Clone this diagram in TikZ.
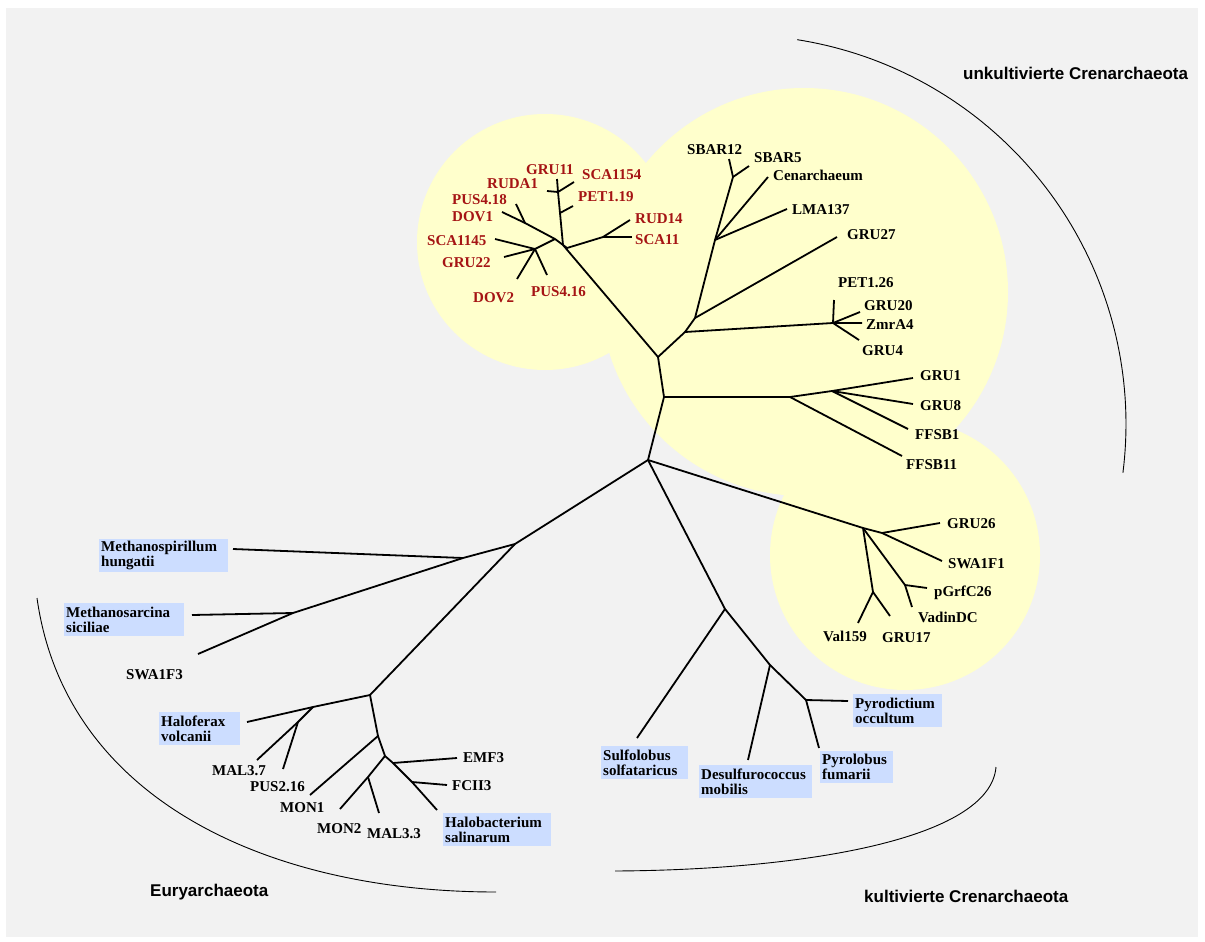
\documentclass[tikz,border=0pt]{standalone}
\usepackage{fontspec}
\setmainfont{Liberation Serif}
\newfontfamily\grpfont{Liberation Sans}
\definecolor{bggray}{RGB}{242,242,242}
\definecolor{halo}{RGB}{255,255,204}
\definecolor{boxblue}{RGB}{204,221,255}
\definecolor{treered}{RGB}{165,20,20}
\begin{document}
\begin{tikzpicture}[x=1pt,y=-1pt,
  branch/.style={line width=1.8pt,line join=round},
  arcline/.style={line width=0.9pt},
  leaf/.style={anchor=base west,inner sep=0pt,font=\bfseries\fontsize{15}{15}\selectfont},
  redleaf/.style={leaf,text=treered},
  taxbox/.style={fill=boxblue,anchor=north west,inner xsep=2pt,inner ysep=0pt,align=left,
    font=\bfseries\fontsize{15}{15}\selectfont},
  grp/.style={anchor=base west,inner sep=0pt,font=\grpfont\bfseries\fontsize{17}{17}\selectfont}]
\useasboundingbox (0,0) rectangle (1205,942);
\fill[white] (0,0) rectangle (1205,942);
\fill[bggray] (6,8) rectangle (1198,937);
% halos
\fill[halo] (545,242) circle[radius=128pt];
\fill[halo] (804,292) circle[radius=204pt];
\fill[halo] (905,555) circle[radius=135pt];

% ---------- coordinates ----------
\coordinate (A) at (648,460);
\coordinate (B) at (664,397);
\coordinate (F) at (658,357);
\coordinate (C) at (863,528);
\coordinate (D) at (515,544);
\coordinate (E) at (725,609);
% upper uncultured
\coordinate (K) at (685,332);
\coordinate (M) at (695,318);
\coordinate (N) at (715,240);
\coordinate (O) at (733,177);
\coordinate (L) at (833,323);
\coordinate (G) at (790,397);
\coordinate (H) at (832,391);
\coordinate (eSBAR12) at (729,159);
\coordinate (eSBAR5) at (749,166);
\coordinate (eCen) at (768,177);
\coordinate (eLMA137) at (787,209);
\coordinate (eGRU27) at (837,237);
\coordinate (ePET126) at (834,300);
\coordinate (eGRU20) at (860,312);
\coordinate (eZmrA4) at (862,323);
\coordinate (eGRU4) at (859,340);
\coordinate (eGRU1) at (913,378);
\coordinate (eGRU8) at (913,404);
\coordinate (eFFSB1) at (908,429);
\coordinate (eFFSB11) at (902,456);
% red cluster
\coordinate (I) at (563,245);
\coordinate (S) at (560,213);
\coordinate (R) at (558,192);
\coordinate (eGRU11) at (557,179);
\coordinate (eRUDA1) at (547,191);
\coordinate (eSCA1154) at (574,182);
\coordinate (ePET119) at (573,206);
\coordinate (Ib) at (555,239);
\coordinate (Xd) at (525,223);
\coordinate (eDOV1) at (502,212);
\coordinate (ePUS418) at (516,204);
\coordinate (T) at (535,249);
\coordinate (eSCA1145) at (495,239);
\coordinate (eGRU22) at (504,257);
\coordinate (eDOV2) at (517,279);
\coordinate (ePUS416) at (547,275);
\coordinate (Ic) at (567,248);
\coordinate (U) at (603,237);
\coordinate (eRUD14) at (630,220);
\coordinate (eSCA11) at (632,237);
% lower right cluster
\coordinate (Jc) at (882,533);
\coordinate (eSWA1F1) at (942,561);
\coordinate (eGRU26) at (940,523);
\coordinate (V) at (905,585);
\coordinate (ePGRF) at (927,588);
\coordinate (eVADIN) at (912,607);
\coordinate (W) at (873,592);
\coordinate (eVAL) at (858,623);
\coordinate (eGRU17) at (890,616);
% Euryarchaeota
\coordinate (X) at (463,558);
\coordinate (eMSPIR) at (233,549);
\coordinate (Y) at (293,613);
\coordinate (eMSARC) at (192,615);
\coordinate (eSWA1F3) at (198,654);
\coordinate (Z) at (370,695);
\coordinate (AA) at (313,707);
\coordinate (eHALOF) at (247,722);
\coordinate (AB) at (298,722);
\coordinate (eMAL37) at (257,760);
\coordinate (ePUS216) at (283,769);
\coordinate (AC) at (378,736);
\coordinate (eMON1) at (310,795);
\coordinate (AD) at (385,756);
\coordinate (P1) at (393,763);
\coordinate (P2) at (412,782);
\coordinate (eEMF3) at (457,758);
\coordinate (eFCII3) at (447,785);
\coordinate (eHALOB) at (437,810);
\coordinate (AE) at (368,777);
\coordinate (eMON2) at (340,809);
\coordinate (eMAL33) at (379,813);
% cultured Crenarchaeota
\coordinate (eSULF) at (637,738);
\coordinate (AF) at (770,665);
\coordinate (eDESULF) at (748,760);
\coordinate (AG) at (806,700);
\coordinate (ePYROD) at (848,701);
\coordinate (ePYROL) at (819,748);

% ---------- branches ----------
\draw[branch] (A) -- (B) -- (F);
\draw[branch] (A) -- (C);
\draw[branch] (A) -- (D);
\draw[branch] (A) -- (E);
% upper
\draw[branch] (F) -- (K) -- (M) -- (N) -- (O) -- (eSBAR12);
\draw[branch] (O) -- (eSBAR5);
\draw[branch] (N) -- (eCen);
\draw[branch] (N) -- (eLMA137);
\draw[branch] (M) -- (eGRU27);
\draw[branch] (K) -- (L) -- (eZmrA4);
\draw[branch] (L) -- (ePET126);
\draw[branch] (L) -- (eGRU20);
\draw[branch] (L) -- (eGRU4);
\draw[branch] (B) -- (G) -- (H) -- (eGRU1);
\draw[branch] (G) -- (eFFSB11);
\draw[branch] (H) -- (eGRU8);
\draw[branch] (H) -- (eFFSB1);
% red
\draw[branch] (F) -- (I);
\draw[branch] (I) -- (S) -- (R) -- (eGRU11);
\draw[branch] (R) -- (eRUDA1);
\draw[branch] (R) -- (eSCA1154);
\draw[branch] (S) -- (ePET119);
\draw[branch] (I) -- (Ib) -- (Xd) -- (eDOV1);
\draw[branch] (Xd) -- (ePUS418);
\draw[branch] (Ib) -- (T) -- (eSCA1145);
\draw[branch] (T) -- (eGRU22);
\draw[branch] (T) -- (eDOV2);
\draw[branch] (T) -- (ePUS416);
\draw[branch] (I) -- (Ic) -- (U) -- (eRUD14);
\draw[branch] (U) -- (eSCA11);
% lower right
\draw[branch] (C) -- (Jc) -- (eSWA1F1);
\draw[branch] (Jc) -- (eGRU26);
\draw[branch] (C) -- (V) -- (ePGRF);
\draw[branch] (V) -- (eVADIN);
\draw[branch] (C) -- (W) -- (eVAL);
\draw[branch] (W) -- (eGRU17);
% Euryarchaeota
\draw[branch] (D) -- (X) -- (Y) -- (eSWA1F3);
\draw[branch] (X) -- (eMSPIR);
\draw[branch] (Y) -- (eMSARC);
\draw[branch] (D) -- (Z);
\draw[branch] (Z) -- (AA) -- (eHALOF);
\draw[branch] (AA) -- (AB) -- (eMAL37);
\draw[branch] (AB) -- (ePUS216);
\draw[branch] (Z) -- (AC) -- (eMON1);
\draw[branch] (AC) -- (AD) -- (P1) -- (P2) -- (eHALOB);
\draw[branch] (P1) -- (eEMF3);
\draw[branch] (P2) -- (eFCII3);
\draw[branch] (AD) -- (AE) -- (eMON2);
\draw[branch] (AE) -- (eMAL33);
% cultured
\draw[branch] (E) -- (eSULF);
\draw[branch] (E) -- (AF) -- (eDESULF);
\draw[branch] (AF) -- (AG) -- (ePYROD);
\draw[branch] (AG) -- (ePYROL);

% ---------- group arcs ----------
\coordinate (arcUa) at (797,40);
\coordinate (arcUb) at (1123,473);
\draw[arcline] plot[domain=-81.1:7.2,samples=80,variable=\t] ({737+389*cos(\t)},{424+389*sin(\t)});
\coordinate (arcLa) at (37,598);
\coordinate (arcLb) at (496,892);
\draw[arcline] (arcLa) .. controls (65,798) and (266,892) .. (arcLb);
\coordinate (arcRa) at (615,871);
\coordinate (arcRb) at (996,767);
\draw[arcline] (arcRa) .. controls (800,870) and (990,840) .. (arcRb);

% ---------- labels ----------
\node[redleaf] (lGRU11) at (526,174) {GRU11};
\node[redleaf] (lSCA1154) at (582,179) {SCA1154};
\node[redleaf] (lRUDA1) at (487,188) {RUDA1};
\node[redleaf] (lPET119) at (578,201) {PET1.19};
\node[redleaf] (lPUS418) at (452,204) {PUS4.18};
\node[redleaf] (lDOV1) at (452,221) {DOV1};
\node[redleaf] (lRUD14) at (635,223) {RUD14};
\node[redleaf] (lSCA1145) at (427,245) {SCA1145};
\node[redleaf] (lSCA11) at (635,244) {SCA11};
\node[redleaf] (lGRU22) at (442,267) {GRU22};
\node[redleaf] (lDOV2) at (473,302) {DOV2};
\node[redleaf] (lPUS416) at (531,296) {PUS4.16};

\node[leaf] (lSBAR12) at (687,154) {SBAR12};
\node[leaf] (lSBAR5) at (754,162) {SBAR5};
\node[leaf] (lCen) at (773,180) {Cenarchaeum};
\node[leaf] (lLMA137) at (792,214) {LMA137};
\node[leaf] (lGRU27) at (847,239) {GRU27};
\node[leaf] (lPET126) at (838,287) {PET1.26};
\node[leaf] (lGRU20) at (864,310) {GRU20};
\node[leaf] (lZmrA4) at (866,329) {ZmrA4};
\node[leaf] (lGRU4) at (862,355) {GRU4};
\node[leaf] (lGRU1) at (920,380) {GRU1};
\node[leaf] (lGRU8) at (920,410) {GRU8};
\node[leaf] (lFFSB1) at (915,439) {FFSB1};
\node[leaf] (lFFSB11) at (906,469) {FFSB11};
\node[leaf] (lGRU26) at (947,528) {GRU26};
\node[leaf] (lSWA1F1) at (948,568) {SWA1F1};
\node[leaf] (lPGRF) at (934,596) {pGrfC26};
\node[leaf] (lVADIN) at (918,622) {VadinDC};
\node[leaf] (lVAL) at (823,641) {Val159};
\node[leaf] (lGRU17) at (882,642) {GRU17};
\node[leaf] (lSWA1F3) at (126,679) {SWA1F3};
\node[leaf] (lMAL37) at (212,775) {MAL3.7};
\node[leaf] (lPUS216) at (250,791) {PUS2.16};
\node[leaf] (lMON1) at (280,812) {MON1};
\node[leaf] (lMON2) at (317,833) {MON2};
\node[leaf] (lMAL33) at (367,838) {MAL3.3};
\node[leaf] (lEMF3) at (463,762) {EMF3};
\node[leaf] (lFCII3) at (452,790) {FCII3};

% boxed taxa
\node[taxbox,text width=125pt,minimum height=33pt] (bMSPIR) at (99,539) {Methanospirillum\\hungatii};
\node[taxbox,text width=116pt,minimum height=33pt] (bMSARC) at (64,603) {Methanosarcina\\siciliae};
\node[taxbox,text width=77pt,minimum height=33pt] (bHALOF) at (159,712) {Haloferax\\volcanii};
\node[taxbox,text width=104pt,minimum height=33pt] (bHALOB) at (443,813) {Halobacterium\\salinarum};
\node[taxbox,text width=83pt,minimum height=33pt] (bSULF) at (601,746) {Sulfolobus\\solfataricus};
\node[taxbox,text width=109pt,minimum height=33pt] (bDESULF) at (699,765) {Desulfurococcus\\mobilis};
\node[taxbox,text width=69pt,minimum height=32pt] (bPYROL) at (820,751) {Pyrolobus\\fumarii};
\node[taxbox,text width=85pt,minimum height=33pt] (bPYROD) at (853,694) {Pyrodictium\\occultum};

% group names
\node[grp] (gUnk) at (963,80) {unkultivierte Crenarchaeota};
\node[grp] (gEury) at (150,896) {Euryarchaeota};
\node[grp] (gKult) at (864,902) {kultivierte Crenarchaeota};
\end{tikzpicture}
\end{document}
